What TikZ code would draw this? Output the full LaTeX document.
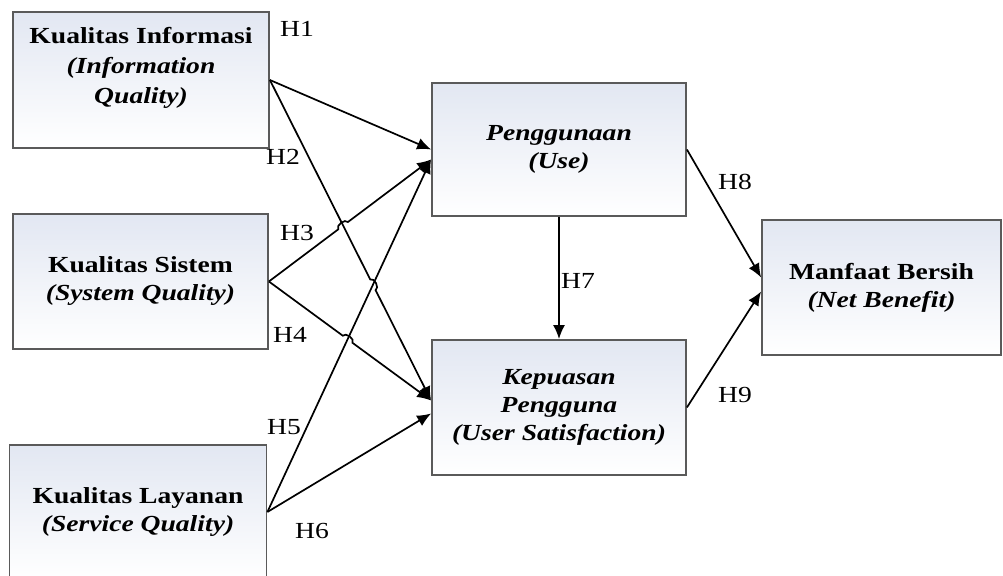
\documentclass[tikz,border=0pt]{standalone}
\usepackage{fontspec}
\setmainfont{Liberation Serif}[FakeStretch=1.2]
\usetikzlibrary{positioning,calc,arrows.meta,intersections}
\definecolor{boxtop}{RGB}{226,231,242}
\definecolor{boxline}{RGB}{90,90,90}
\tikzset{
  var/.style={draw=boxline,line width=0.9pt,top color=boxtop,bottom color=white,align=center,inner sep=2pt,font=\fontsize{11.5}{14}\selectfont\bfseries},
  hyp/.style={-{Latex[length=7pt,width=6pt]},line width=0.85pt},
  hlab/.style={font=\fontsize{11.5}{13}\selectfont,inner sep=1pt}
}
\begin{document}
\begin{tikzpicture}[x=0.5pt,y=-0.5pt]
  \useasboundingbox (0,0) rectangle (1003,576);
  % variables
  \node[var,minimum width=128pt,minimum height=68pt,font=\fontsize{11.5}{15}\selectfont\bfseries] (ki) at (141,80) {Kualitas Informasi\\\textit{(Information}\\\textit{Quality)}\\[0pt]};
  \node[var,minimum width=127.5pt,minimum height=67.5pt] (ks) at (140.5,281.5) {Kualitas Sistem\\\textit{(System Quality)}};
  \node[var,minimum width=128.5pt,minimum height=67pt] (kl) at (138,512) {Kualitas Layanan\\\textit{(Service Quality)}};
  \node[var,minimum width=127pt,minimum height=66.5pt] (pu) at (559,149.5) {\textit{Penggunaan}\\\textit{(Use)}};
  \node[var,minimum width=127pt,minimum height=67.5pt] (kp) at (559,407.5) {\textit{Kepuasan}\\\textit{Pengguna}\\\textit{(User Satisfaction)}};
  \node[var,minimum width=119.5pt,minimum height=67.5pt] (mb) at (881.5,287.5) {Manfaat Bersih\\\textit{(Net Benefit)}};
  % arrow ends
  \coordinate (pu-a) at (pu.west);
  \coordinate (pu-b) at ([yshift=-5pt]pu.west);
  \coordinate (kp-a) at ([yshift=3.5pt]kp.west);
  \coordinate (kp-b) at ([yshift=-3pt]kp.west);
  \coordinate (mb-a) at ([yshift=5pt]mb.west);
  \coordinate (mb-b) at ([yshift=-2pt]mb.west);
  % crossings
  \path[name path=l2] (ki.east) -- (kp-a);
  \path[name path=l3] (ks.east) -- (pu-b);
  \path[name path=l4] (ks.east) -- (kp-a);
  \path[name path=l5] (kl.east) -- (pu-b);
  \path[name intersections={of=l2 and l3,by=x23}];
  \path[name intersections={of=l2 and l5,by=x25}];
  \path[name intersections={of=l4 and l5,by=x45}];
  % hypotheses
  \draw[hyp] (ki.east) -- (pu-a);
  \draw[hyp] (ki.east) -- ($(x25)!3pt!(ki.east)$) to[bend left=90] ($(x25)!3pt!(kp-a)$) -- (kp-a);
  \draw[hyp] (ks.east) -- ($(x23)!3pt!(ks.east)$) to[bend left=90] ($(x23)!3pt!(pu-b)$) -- (pu-b);
  \draw[hyp] (ks.east) -- ($(x45)!3pt!(ks.east)$) to[bend left=90] ($(x45)!3pt!(kp-a)$) -- (kp-a);
  \draw[hyp] (kl.east) -- (pu-b);
  \draw[hyp] (kl.east) -- (kp-b);
  \draw[hyp] (pu) -- (kp);
  \draw[hyp] (pu.east) -- (mb-a);
  \draw[hyp] (kp.east) -- (mb-b);
  % labels
  \node[hlab] (h1) at (297,29) {H1};
  \node[hlab] (h2) at (283,157) {H2};
  \node[hlab] (h3) at (297,233) {H3};
  \node[hlab] (h4) at (290,335) {H4};
  \node[hlab] (h5) at (284,427) {H5};
  \node[hlab] (h6) at (312,531) {H6};
  \node[hlab] (h7) at (578,281) {H7};
  \node[hlab] (h8) at (735,182) {H8};
  \node[hlab] (h9) at (735,395) {H9};
\end{tikzpicture}
\end{document}
